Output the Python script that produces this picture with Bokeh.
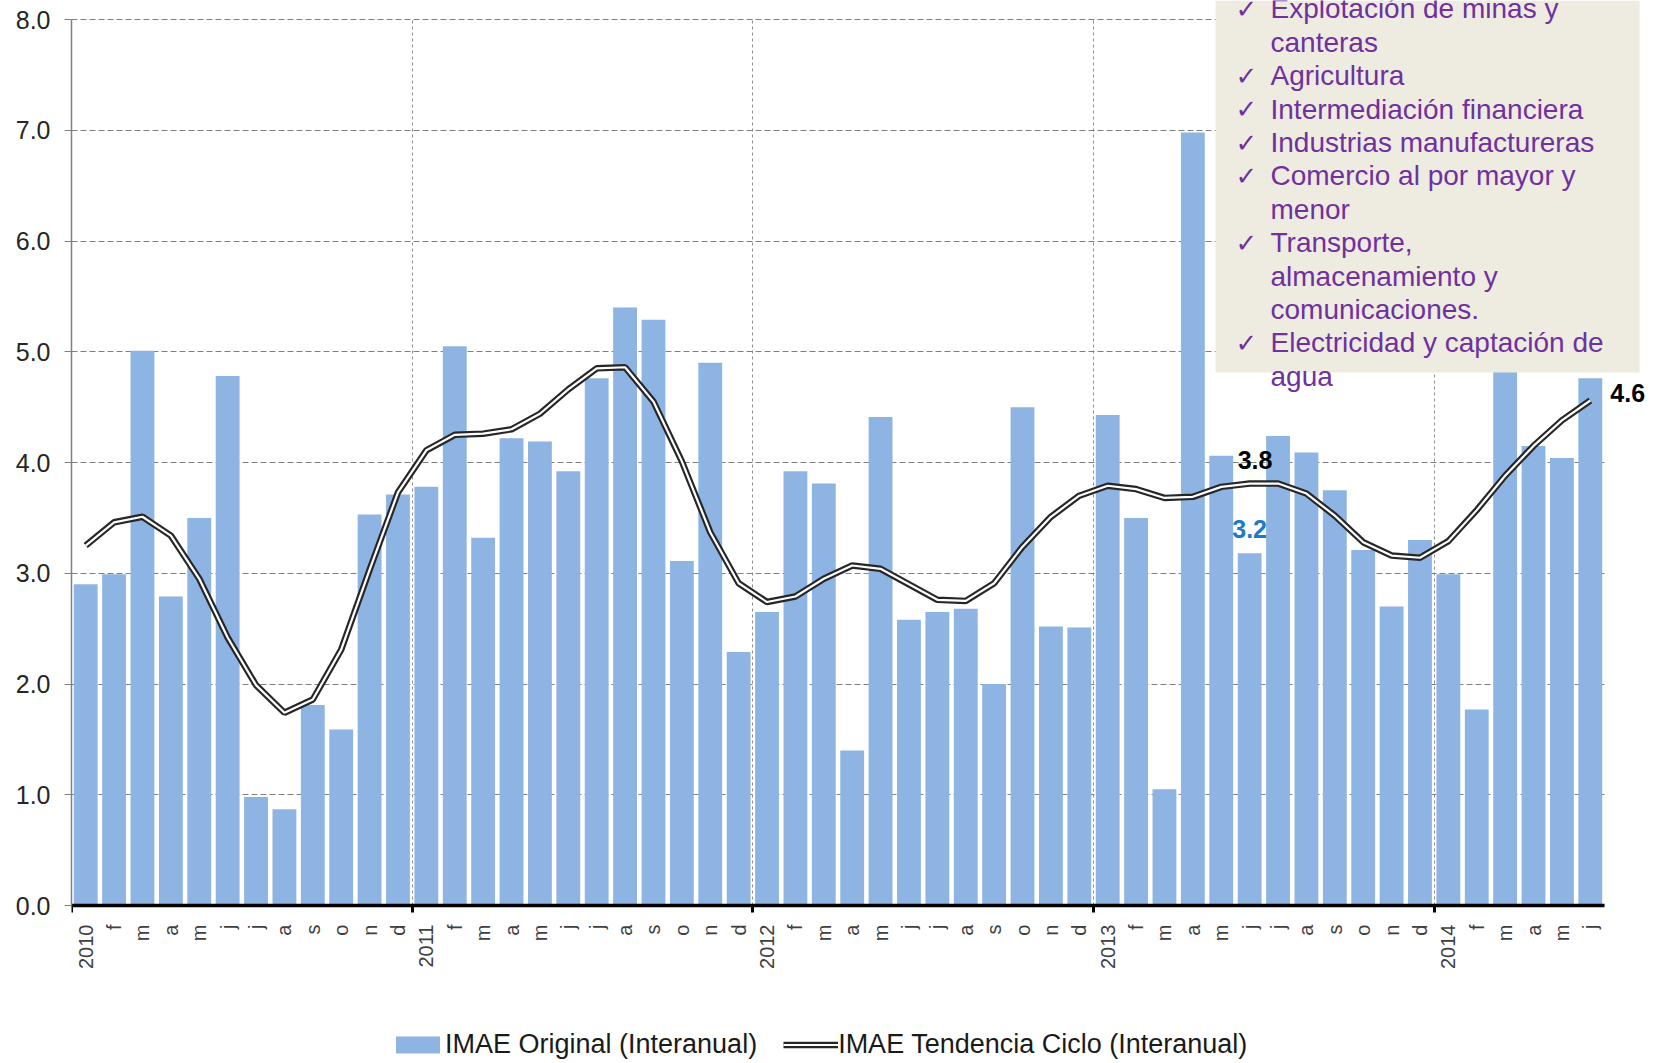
from math import pi
from bokeh.plotting import figure
from bokeh.models import (ColumnDataSource, FixedTicker, Legend, LegendItem, Label,
                          BoxAnnotation, Range1d, PrintfTickFormatter)
from bokeh.embed import file_html
from bokeh.resources import INLINE

# ---------------- data ----------------
years = ["2010", "2011", "2012", "2013", "2014"]
month_initials = ["e", "f", "m", "a", "m", "j", "j", "a", "s", "o", "n", "d"]
months_in_2014 = 6

imae_original = [
    2.90, 2.99, 5.01, 2.79, 3.50, 4.78, 0.98, 0.87, 1.81, 1.59, 3.53, 3.71,
    3.78, 5.05, 3.32, 4.22, 4.19, 3.92, 4.76, 5.40, 5.29, 3.11, 4.90, 2.29,
    2.65, 3.92, 3.81, 1.40, 4.41, 2.58, 2.65, 2.68, 2.00, 4.50, 2.52, 2.51,
    4.43, 3.50, 1.05, 6.98, 4.06, 3.18, 4.24, 4.09, 3.75, 3.21, 2.70, 3.30,
    2.99, 1.77, 5.00, 4.15, 4.04, 4.76,
]
imae_tendencia = [
    3.25, 3.46, 3.51, 3.34, 2.95, 2.42, 1.99, 1.74, 1.86, 2.31, 3.03, 3.73,
    4.11, 4.25, 4.26, 4.30, 4.44, 4.66, 4.85, 4.86, 4.55, 4.01, 3.37, 2.91,
    2.74, 2.79, 2.95, 3.07, 3.04, 2.90, 2.76, 2.75, 2.91, 3.24, 3.51, 3.70,
    3.79, 3.76, 3.68, 3.69, 3.78, 3.81, 3.81, 3.72, 3.52, 3.28, 3.16, 3.14,
    3.29, 3.57, 3.88, 4.15, 4.38, 4.56,
]
y_ticks = [0, 1, 2, 3, 4, 5, 6, 7, 8]

box_lines = [
    (True, "Explotación de minas y"),
    (False, "canteras"),
    (True, "Agricultura"),
    (True, "Intermediación financiera"),
    (True, "Industrias manufactureras"),
    (True, "Comercio al por mayor y"),
    (False, "menor"),
    (True, "Transporte,"),
    (False, "almacenamiento y"),
    (False, "comunicaciones."),
    (True, "Electricidad y captación de"),
    (False, "agua"),
]
highlight_month = 41  # junio 2013

# ---------------- build categories ----------------
tick_labels = []
year_starts = []
for y in years:
    n = months_in_2014 if y == "2014" else 12
    for k in range(n):
        if k == 0:
            year_starts.append(len(tick_labels))
        tick_labels.append(y if k == 0 else month_initials[k])
xs = list(range(len(tick_labels)))
boundaries = [s - 0.5 for s in year_starts]
x_lo, x_hi = -0.5, len(xs) - 0.5
y_lo, y_hi = y_ticks[0], y_ticks[-1]

src = ColumnDataSource(dict(x=xs, orig=imae_original, trend=imae_tendencia))

# ---------------- layout (page pixels) ----------------
W, H = 1655, 1063
PLOT_L, PLOT_R, PLOT_T, PLOT_B = 71, 1604, 19, 905     # drawn axes area
px_per_x = (PLOT_R - PLOT_L) / (x_hi - x_lo)
px_per_y = (PLOT_B - PLOT_T) / (y_hi - y_lo)
frame_x_end = x_lo + (W - PLOT_L) / px_per_x
frame_y_end = y_lo + PLOT_B / px_per_y
frame_y_start = y_lo - (H - PLOT_B) / px_per_y

p = figure(width=W, height=H, output_backend="svg", toolbar_location=None,
           x_range=Range1d(x_lo, frame_x_end), y_range=Range1d(frame_y_start, frame_y_end),
           min_border_left=PLOT_L, min_border_right=0, min_border_top=0,
           min_border_bottom=0)
p.outline_line_color = None
p.background_fill_color = "white"
p.border_fill_color = "white"

def dx(px):
    return x_lo + (px - PLOT_L) / px_per_x
def dy(py):
    return y_lo + (PLOT_B - py) / px_per_y

bars = p.vbar(x="x", top="orig", width=0.84, source=src,
              fill_color="#8EB4E3", line_color=None)
l_out = p.line("x", "trend", source=src, line_color="#262626", line_width=6.5)
l_in = p.line("x", "trend", source=src, line_color="white", line_width=2.2)

# x axis (pinned at y = 0)
xt = FixedTicker(ticks=xs, minor_ticks=boundaries)
p.xaxis.fixed_location = y_lo
p.xaxis.ticker = xt
p.xgrid.ticker = xt
p.xaxis.bounds = (x_lo, x_hi)
p.xaxis.major_label_overrides = {i: lab for i, lab in zip(xs, tick_labels)}
p.xaxis.major_label_orientation = pi / 2
p.xaxis.major_label_text_font = "Liberation Sans"
p.xaxis.major_label_text_font_size = "20px"
p.xaxis.major_label_text_color = "#404040"
p.xaxis.major_label_standoff = 12
p.xaxis.major_tick_line_color = None
p.xaxis.major_tick_in = 0
p.xaxis.major_tick_out = 0
p.xaxis.minor_tick_in = 0
p.xaxis.minor_tick_out = 7
p.xaxis.minor_tick_line_color = "black"
p.xaxis.minor_tick_line_width = 3
p.xaxis.axis_line_color = "black"
p.xaxis.axis_line_width = 3.5
p.xgrid.grid_line_color = None
p.xgrid.minor_grid_line_color = "#8c8c8c"
p.xgrid.minor_grid_line_dash = "3 3"
p.xgrid.minor_grid_line_width = 1

# y axis
yt = FixedTicker(ticks=y_ticks, minor_ticks=[])
p.yaxis.ticker = yt
p.ygrid.ticker = yt
p.yaxis.bounds = (y_lo, y_hi)
p.yaxis.formatter = PrintfTickFormatter(format="%.1f")
p.yaxis.major_label_text_font = "Liberation Sans"
p.yaxis.major_label_text_font_size = "25px"
p.yaxis.major_label_text_color = "#262626"
p.yaxis.major_label_standoff = 14
p.yaxis.axis_line_color = "#808080"
p.yaxis.axis_line_width = 1.5
p.yaxis.major_tick_line_color = "#808080"
p.yaxis.major_tick_in = 0
p.yaxis.major_tick_out = 7
p.ygrid.grid_line_color = "#808080"
p.ygrid.grid_line_dash = "6 3"
p.ygrid.grid_line_width = 1

xg, yg = p.xgrid[0], p.ygrid[0]
if "cross_bounds" in xg.properties():
    xg.cross_bounds = (y_lo, y_hi)
    yg.cross_bounds = (x_lo, x_hi)

# legend (inside the frame, under the axis labels)
legend = Legend(items=[
    LegendItem(label="IMAE Original (Interanual)", renderers=[bars]),
    LegendItem(label="IMAE Tendencia Ciclo (Interanual)", renderers=[l_out, l_in]),
], orientation="horizontal", location=(319, 0),
    glyph_width=55, glyph_height=21, label_height=38, label_standoff=0, spacing=26,
    padding=0, margin=0, border_line_color=None, background_fill_alpha=0,
    label_text_font="Liberation Sans", label_text_font_size="27px",
    label_text_color="#1a1a1a", label_text_baseline="middle")
p.add_layout(legend)

# value labels
lab_style = dict(text_baseline="middle", text_font="Liberation Sans",
                 text_font_style="bold", text_font_size="25px")
p.add_layout(Label(x=highlight_month, y=imae_tendencia[highlight_month],
                   text=f"{imae_tendencia[highlight_month]:.1f}", x_offset=-12, y_offset=24,
                   text_align="left", text_color="black", **lab_style))
p.add_layout(Label(x=highlight_month, y=imae_original[highlight_month],
                   text=f"{imae_original[highlight_month]:.1f}", y_offset=24,
                   text_align="center", text_color="#1F78C8", **lab_style))
p.add_layout(Label(x=xs[-1], y=imae_tendencia[-1], text=f"{imae_tendencia[-1]:.1f}",
                   x_offset=20, y_offset=7, text_align="left", text_color="black",
                   **lab_style))

# note box
p.add_layout(BoxAnnotation(left=dx(1215), right=dx(1639), top=frame_y_end, bottom=dy(372),
                           fill_color="#EEECE1", fill_alpha=1.0, line_color=None,
                           level="annotation"))
purple = "#7030A0"
for i, (check, txt) in enumerate(box_lines):
    yc = 8.4 + 33.4 * i
    if check:
        p.add_layout(Label(x=dx(1235), y=dy(yc), text="✓", text_align="left",
                           text_baseline="middle", text_font="DejaVu Sans",
                           text_font_size="26px", text_color=purple))
    p.add_layout(Label(x=dx(1270), y=dy(yc), text=txt, text_align="left",
                       text_baseline="middle", text_font="Liberation Sans",
                       text_font_size="28px", text_color=purple))

open("out.html", "w").write(file_html(p, INLINE))
